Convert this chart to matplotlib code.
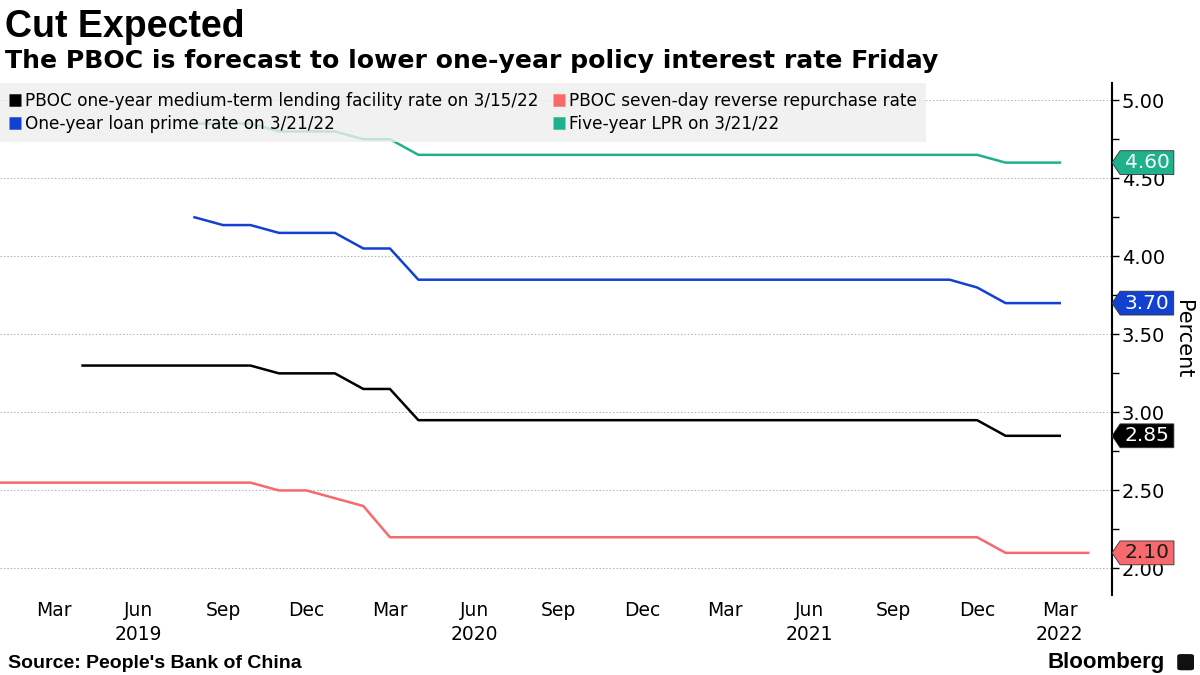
import pandas as pd
import matplotlib
matplotlib.use('Agg')
import matplotlib.pyplot as plt
import matplotlib.transforms as mtransforms
from matplotlib.path import Path
from matplotlib.patches import FancyBboxPatch
from matplotlib.ticker import MultipleLocator

# Datos mensuales (inicio de mes)
reverse_repo_start = '2019-01-01'
reverse_repo = [2.55, 2.55, 2.55, 2.55, 2.55, 2.55, 2.55, 2.55, 2.55, 2.55,
                2.50, 2.50, 2.45, 2.40, 2.20,
                2.20, 2.20, 2.20, 2.20, 2.20, 2.20, 2.20, 2.20, 2.20, 2.20,
                2.20, 2.20, 2.20, 2.20, 2.20, 2.20, 2.20, 2.20, 2.20, 2.20, 2.20,
                2.10, 2.10, 2.10, 2.10]

mlf_start = '2019-04-01'
mlf = [3.30, 3.30, 3.30, 3.30, 3.30, 3.30, 3.30,
       3.25, 3.25, 3.25, 3.15, 3.15,
       2.95, 2.95, 2.95, 2.95, 2.95, 2.95, 2.95, 2.95, 2.95, 2.95,
       2.95, 2.95, 2.95, 2.95, 2.95, 2.95, 2.95, 2.95, 2.95, 2.95, 2.95,
       2.85, 2.85, 2.85]

lpr_start = '2019-08-01'
lpr_1y = [4.25, 4.20, 4.20, 4.15, 4.15, 4.15, 4.05, 4.05,
          3.85, 3.85, 3.85, 3.85, 3.85, 3.85, 3.85, 3.85, 3.85, 3.85,
          3.85, 3.85, 3.85, 3.85, 3.85, 3.85, 3.85, 3.85, 3.85, 3.85,
          3.80, 3.70, 3.70, 3.70]
lpr_5y = [4.85, 4.85, 4.85, 4.80, 4.80, 4.80, 4.75, 4.75,
          4.65, 4.65, 4.65, 4.65, 4.65, 4.65, 4.65, 4.65, 4.65, 4.65,
          4.65, 4.65, 4.65, 4.65, 4.65, 4.65, 4.65, 4.65, 4.65, 4.65, 4.65,
          4.60, 4.60, 4.60]

tick_dates = ['2019-03-01', '2019-06-01', '2019-09-01', '2019-12-01',
              '2020-03-01', '2020-06-01', '2020-09-01', '2020-12-01',
              '2021-03-01', '2021-06-01', '2021-09-01', '2021-12-01',
              '2022-03-01']
tick_labels = ['Mar', 'Jun\n2019', 'Sep', 'Dec', 'Mar', 'Jun\n2020', 'Sep', 'Dec',
               'Mar', 'Jun\n2021', 'Sep', 'Dec', 'Mar\n2022']

series = [
    ('PBOC one-year medium-term lending facility rate on 3/15/22', mlf_start, mlf, '#000000', 'white'),
    ('One-year loan prime rate on 3/21/22', lpr_start, lpr_1y, '#1241d2', 'white'),
    ('PBOC seven-day reverse repurchase rate', reverse_repo_start, reverse_repo, '#f7696c', '#1a1a1a'),
    ('Five-year LPR on 3/21/22', lpr_start, lpr_5y, '#1fb18b', 'white'),
]


def tag_style(x0, y0, width, height, mutation_size):
    # etiqueta con punta hacia la izquierda
    padx = 0.22 * mutation_size
    pady = 0.12 * mutation_size
    left = x0 - padx
    right = x0 + width + padx
    bottom = y0 - pady
    top = y0 + height + pady
    mid = (bottom + top) / 2
    tip = (top - bottom) * 0.34
    verts = [(left - tip, mid), (left, top), (right, top), (right, bottom),
             (left, bottom), (left - tip, mid)]
    return Path(verts, closed=True)


fig = plt.figure(figsize=(12, 6.75), dpi=100)
ax = fig.add_axes([0.0, 0.1185, 0.9267, 0.7585])

trans = mtransforms.blended_transform_factory(ax.transAxes, ax.transData)
for label, start, values, color, txt_color in series:
    dates = pd.date_range(start, periods=len(values), freq='MS')
    ax.plot(dates, values, color=color, lw=1.8, label=label, zorder=3)
    last = values[-1]
    ax.annotate(f'{last:.2f}', xy=(1.0, last), xycoords=trans,
                xytext=(9, 0), textcoords='offset points',
                ha='left', va='center', fontsize=14.5, color=txt_color,
                bbox=dict(boxstyle=tag_style, fc=color, ec='#333333', lw=0.6),
                annotation_clip=False, zorder=5)

ax.set_xlim(pd.Timestamp('2019-01-01'), pd.Timestamp('2022-04-27'))
ax.set_ylim(1.83, 5.11)

ax.set_xticks(pd.to_datetime(tick_dates))
ax.set_xticklabels(tick_labels, fontsize=13.5, linespacing=1.35)
ax.tick_params(axis='x', length=0, pad=4)

ax.yaxis.tick_right()
ax.yaxis.set_label_position('right')
ax.yaxis.set_major_locator(MultipleLocator(0.5))
ax.yaxis.set_minor_locator(MultipleLocator(0.25))
ax.yaxis.set_major_formatter(lambda v, pos: f'{v:.2f}')
ax.tick_params(axis='y', which='both', direction='out', length=5, width=1, labelsize=14, pad=2)
ax.set_ylabel('Percent', fontsize=15, rotation=270, labelpad=20)

for side in ['left', 'top', 'bottom']:
    ax.spines[side].set_visible(False)
ax.spines['right'].set_linewidth(1.5)

ax.grid(axis='y', which='major', linestyle=(0, (1.5, 2)), color='#b0b0b0', lw=0.7)
ax.set_axisbelow(True)

leg = ax.legend(loc='upper left', bbox_to_anchor=(0, 1), ncol=2, frameon=True,
                fancybox=False, borderaxespad=0, fontsize=12.2,
                handlelength=0.7, handleheight=0.7, handletextpad=0.2,
                columnspacing=0.9, labelspacing=0.25, borderpad=0.55)
frame = leg.get_frame()
frame.set_facecolor('#eeeeee')
frame.set_edgecolor('none')
frame.set_alpha(0.8)
leg.set_zorder(4)
for h in leg.legend_handles:
    h.set_linewidth(9)
    h.set_solid_capstyle('butt')

fig.text(0.004, 0.945, 'Cut Expected', fontsize=27, fontweight='bold',
         family='Liberation Sans', va='baseline')
fig.text(0.004, 0.899, 'The PBOC is forecast to lower one-year policy interest rate Friday',
         fontsize=18.1, fontweight='bold', va='baseline')
fig.text(0.007, 0.0104, "Source: People's Bank of China", fontsize=14, fontweight='bold',
         family='Liberation Sans', va='baseline')
fig.text(0.971, 0.0104, 'Bloomberg', fontsize=16, fontweight='bold',
         family='Liberation Sans', va='baseline', ha='right')
logo = FancyBboxPatch((0.982, 0.008), 0.012, 0.022, boxstyle='round,pad=0.001,rounding_size=0.003',
                      transform=fig.transFigure, fc='#111111', ec='none')
fig.patches.append(logo)

fig.savefig('out.png', dpi=100)
